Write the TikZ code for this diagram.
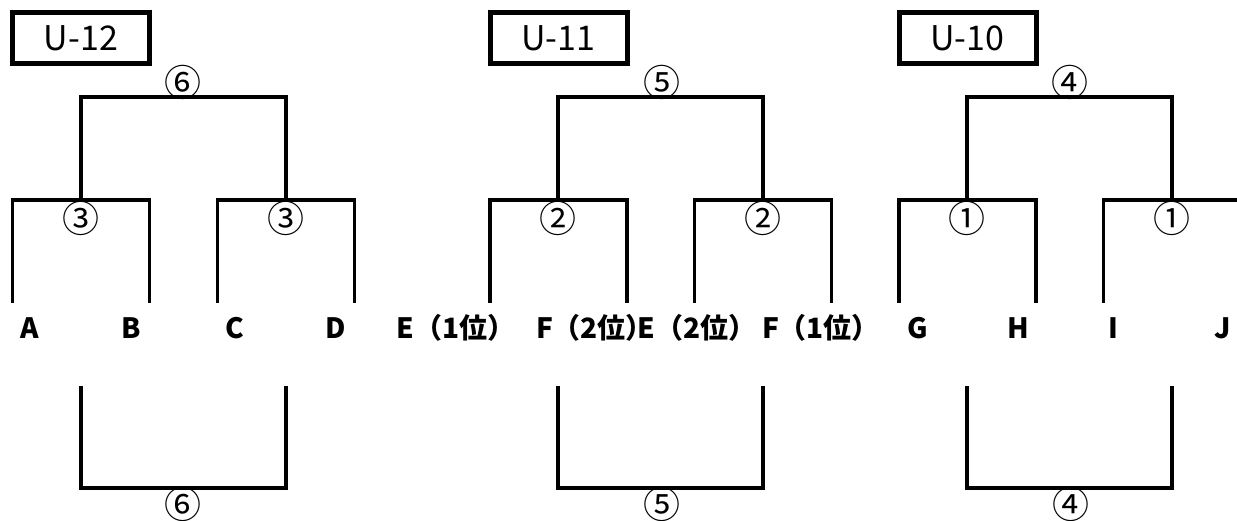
\documentclass[tikz,border=0pt]{standalone}
\usepackage{fontspec}
\newfontfamily\jp{Noto Sans CJK JP}
\tikzset{
  br/.style={line width=3.5pt, line join=miter},
  titlebox/.style={draw, line width=5pt, minimum width=137pt, minimum height=51pt, inner sep=0pt, font=\jp\fontsize{34}{34}\selectfont},
  team/.style={font=\jp\bfseries\fontsize{28}{28}\selectfont, inner sep=0pt},
  num/.style={font=\jp\fontsize{37}{37}\selectfont, inner sep=0pt}
}
\begin{document}
\begin{tikzpicture}[x=1pt,y=-1pt]
\useasboundingbox (0,0) rectangle (1237,521);
% title boxes
\node[titlebox] (t12) at (81,38) {U-12};
\node[titlebox] (t11) at (558.5,38) {U-11};
\node[titlebox] (t10) at (967.5,38) {U-10};

% ---------- U-12 ----------
\coordinate (a1) at (81,97);  \coordinate (a2) at (286,97);
\coordinate (a3) at (81,200); \coordinate (a4) at (286,200);
\draw[br] (a3) -- (a1) -- (a2) -- (a4);
\coordinate (b1) at (12.5,303); \coordinate (b2) at (12.5,200);
\coordinate (b3) at (149.5,200); \coordinate (b4) at (149.5,303);
\draw[br] (b1) -- (b2) -- (b3) -- (b4);
\coordinate (c1) at (217.5,303); \coordinate (c2) at (217.5,200);
\coordinate (c3) at (354.5,200); \coordinate (c4) at (354.5,303);
\draw[br] (c1) -- (c2) -- (c3) -- (c4);
\coordinate (d1) at (81,386); \coordinate (d2) at (81,488);
\coordinate (d3) at (286,488); \coordinate (d4) at (286,386);
\draw[br] (d1) -- (d2) -- (d3) -- (d4);
\node[num] (n6t) at (183,82) {⑥};
\node[num] (n3a) at (81,218) {③};
\node[num] (n3b) at (286,218) {③};
\node[num] (n6b) at (183,504) {⑥};

% ---------- U-11 ----------
\coordinate (e1) at (558,97);  \coordinate (e2) at (763,97);
\coordinate (e3) at (558,200); \coordinate (e4) at (763,200);
\draw[br] (e3) -- (e1) -- (e2) -- (e4);
\coordinate (f1) at (490,303); \coordinate (f2) at (490,200);
\coordinate (f3) at (627,200); \coordinate (f4) at (627,303);
\draw[br] (f1) -- (f2) -- (f3) -- (f4);
\coordinate (g1) at (694.5,303); \coordinate (g2) at (694.5,200);
\coordinate (g3) at (831.5,200); \coordinate (g4) at (831.5,303);
\draw[br] (g1) -- (g2) -- (g3) -- (g4);
\coordinate (h1) at (558,386); \coordinate (h2) at (558,488);
\coordinate (h3) at (763,488); \coordinate (h4) at (763,386);
\draw[br] (h1) -- (h2) -- (h3) -- (h4);
\node[num] (n5t) at (662,82) {⑤};
\node[num] (n2a) at (558,218) {②};
\node[num] (n2b) at (763,218) {②};
\node[num] (n5b) at (662,504) {⑤};

% ---------- U-10 ----------
\coordinate (i1) at (967,97);  \coordinate (i2) at (1172,97);
\coordinate (i3) at (967,200); \coordinate (i4) at (1172,200);
\draw[br] (i3) -- (i1) -- (i2) -- (i4);
\coordinate (j1) at (899,303); \coordinate (j2) at (899,200);
\coordinate (j3) at (1036,200); \coordinate (j4) at (1036,303);
\draw[br] (j1) -- (j2) -- (j3) -- (j4);
\coordinate (k1) at (1103.5,303); \coordinate (k2) at (1103.5,200);
\coordinate (k3) at (1237,200);
\draw[br] (k1) -- (k2) -- (k3);
\coordinate (l1) at (967,386); \coordinate (l2) at (967,488);
\coordinate (l3) at (1172,488); \coordinate (l4) at (1172,386);
\draw[br] (l1) -- (l2) -- (l3) -- (l4);
\node[num] (n4t) at (1070,82) {④};
\node[num] (n1a) at (967,218) {①};
\node[num] (n1b) at (1172,218) {①};
\node[num] (n4b) at (1071,504) {④};

% team labels
\node[team] (A) at (30,328) {A};
\node[team] (B) at (131,328) {B};
\node[team] (C) at (235,328) {C};
\node[team] (D) at (336,328) {D};
\node[team] (E1) at (456,328) {E（1位）};
\node[team] (F2) at (595,328) {F（2位）};
\node[team] (E2) at (697,328) {E（2位）};
\node[team] (F1) at (821,328) {F（1位）};
\node[team] (G) at (918,328) {G};
\node[team] (H) at (1018,328) {H};
\node[team] (I) at (1113,328) {I};
\node[team] (J) at (1223,328) {J};
\end{tikzpicture}
\end{document}
